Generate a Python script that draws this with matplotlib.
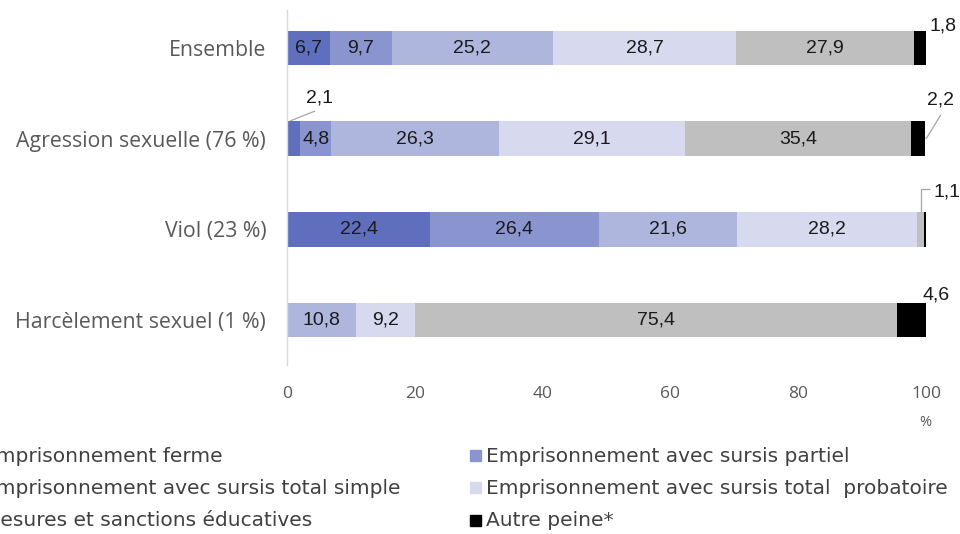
import matplotlib
matplotlib.use("Agg")
import matplotlib.pyplot as plt
from matplotlib.patches import Rectangle

categories = ["Ensemble", "Agression sexuelle (76 %)", "Viol (23 %)", "Harcèlement sexuel (1 %)"]
series_names = [
    "Emprisonnement ferme",
    "Emprisonnement avec sursis partiel",
    "Emprisonnement avec sursis total simple",
    "Emprisonnement avec sursis total  probatoire",
    "Mesures et sanctions éducatives",
    "Autre peine*",
]
ferme = [6.7, 2.1, 22.4, 0.0]
partiel = [9.7, 4.8, 26.4, 0.0]
total_simple = [25.2, 26.3, 21.6, 10.8]
probatoire = [28.7, 29.1, 28.2, 9.2]
mesures = [27.9, 35.4, 1.1, 75.4]
autre = [1.8, 2.2, 0.3, 4.6]
xticks = [0, 20, 40, 60, 80, 100]

colors = ["#606EBE", "#8A94CF", "#AFB6DE", "#D7DAEE", "#BFBFBF", "#000000"]
series = [ferme, partiel, total_simple, probatoire, mesures, autre]

LBL_FONT = "Liberation Sans"
LBL_SIZE = 14
LBL_COL = "#1a1a1a"
LEAD_COL = "#A6A6A6"

W, H = 960, 534
fig = plt.figure(figsize=(W / 100, H / 100), dpi=100)
ax = fig.add_axes([287 / W, 1 - 365 / H, (926 - 287) / W, (365 - 10) / H])

ypos = list(range(len(categories)))
left = [0.0] * len(categories)
bar_h = 0.385
for si, (vals, col) in enumerate(zip(series, colors)):
    ax.barh(ypos, vals, left=left, height=bar_h, color=col, edgecolor="none")
    if si < 5:
        for i, v in enumerate(vals):
            if v >= 4:
                ax.text(left[i] + v / 2, ypos[i], f"{v:.1f}".replace(".", ","),
                        ha="center", va="center", fontsize=LBL_SIZE, family=LBL_FONT, color=LBL_COL)
    left = [l + v for l, v in zip(left, vals)]


def lab(v):
    return f"{v:.1f}".replace(".", ",")


def outside(text, x, y):
    ax.text(x, y, text, ha="left", va="center", fontsize=LBL_SIZE, family=LBL_FONT,
            color=LBL_COL, clip_on=False)


def leader(xs, ys):
    ax.plot(xs, ys, color=LEAD_COL, lw=0.9, clip_on=False, solid_capstyle="butt")


# Ensemble – autre peine
outside(lab(autre[0]), 100.6, -0.243)
# Agression – ferme
outside(lab(ferme[1]), 3.0, 0.551)
leader([0.47, 4.4], [0.805, 0.695])
# Agression – autre peine
outside(lab(autre[1]), 100.2, 0.573)
leader([100.0, 102.3], [1.003, 0.739])
# Viol – mesures
outside(lab(mesures[2]), 101.1, 1.588)
leader([99.2, 99.2, 100.6], [1.808, 1.555, 1.555])
# Harcèlement – autre peine
outside(lab(autre[3]), 99.4, 2.723)

ax.set_xlim(0, 100)
ax.set_ylim(3 + 45 / 90.7, -38 / 90.7)
ax.set_yticks(ypos)
ax.set_yticklabels(categories, family="Open Sans", fontsize=15.3, color="#595959")
ax.set_xticks(xticks)
ax.set_xticklabels([str(t) for t in xticks], family="Open Sans", fontsize=12.5, color="#595959")
ax.tick_params(axis="both", length=0)
ax.tick_params(axis="x", pad=15)
ax.tick_params(axis="y", pad=15)
for s in ["top", "right", "bottom"]:
    ax.spines[s].set_visible(False)
ax.spines["left"].set_color("#D9D9D9")
ax.spines["left"].set_linewidth(1)

fig.text(925 / W, 1 - 423 / H, "%", ha="center", va="center", family="Open Sans",
         fontsize=10.5, color="#595959")

# legend (two columns, left column cropped by the canvas edge as in the reference)
leg_order = [0, 2, 4, 1, 3, 5]
col_x = [-17, 486]
row_y = [456, 488, 521]
for k, idx in enumerate(leg_order):
    c, r = divmod(k, 3)
    tx = col_x[c]
    ty = row_y[r]
    fig.patches.append(Rectangle(((tx - 16) / W, 1 - (ty + 5) / H), 11 / W, 11 / H,
                                 transform=fig.transFigure, color=colors[idx]))
    fig.text(tx / W, 1 - ty / H, series_names[idx], ha="left", va="center",
             family="DejaVu Sans", fontsize=14.5, color="#404040")

fig.savefig("out.png", dpi=100)
